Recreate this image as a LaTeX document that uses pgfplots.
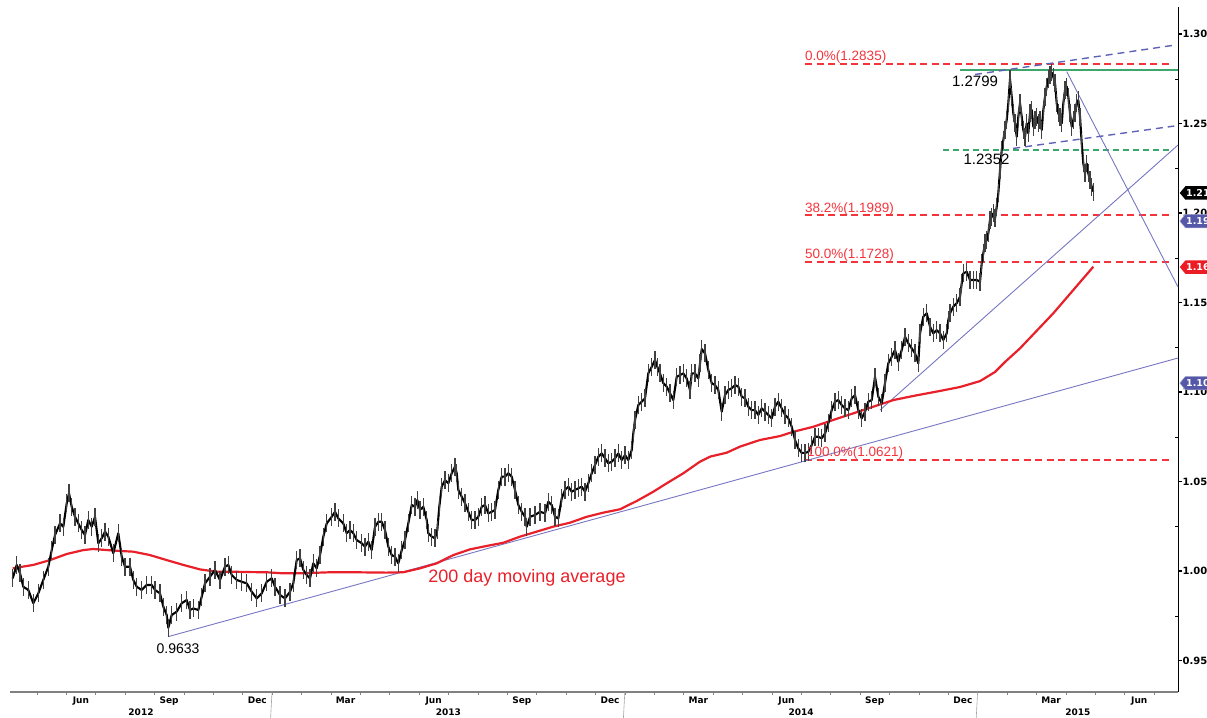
\documentclass[border=0pt]{standalone}
\usepackage{pgfplots}
\pgfplotsset{compat=1.18}
\usepackage{fontspec}
\setmainfont{Liberation Sans}
\newfontfamily\dejavu{DejaVu Sans}
\usetikzlibrary{shapes.symbols}
\definecolor{trend}{HTML}{7676C2}
\definecolor{dblue}{HTML}{5F62B5}
\definecolor{fibline}{rgb}{0.96,0.2,0.23}
\definecolor{mared}{HTML}{E8202A}
\definecolor{grn}{HTML}{3DA66C}
\definecolor{tagblue}{HTML}{5558A8}
\definecolor{tagred}{HTML}{EC1C24}

\pgfplotstableread{
m v
3.180 0.9959
3.316 1.0034
3.429 0.9987
3.541 0.9912
3.711 0.9894
3.881 0.9820
4.051 0.9875
4.221 0.9950
4.391 1.0024
4.507 1.0117
4.619 1.0201
4.789 1.0266
4.901 1.0247
5.017 1.0378
5.095 1.0434
5.187 1.0359
5.299 1.0303
5.412 1.0266
5.527 1.0229
5.639 1.0201
5.752 1.0285
5.867 1.0247
5.980 1.0303
6.092 1.0155
6.207 1.0183
6.320 1.0220
6.432 1.0192
6.602 1.0099
6.772 1.0211
6.888 1.0080
7.000 1.0024
7.170 1.0024
7.282 0.9950
7.398 0.9912
7.568 0.9894
7.738 0.9922
7.908 0.9922
8.020 0.9894
8.190 0.9875
8.303 0.9801
8.418 0.9754
8.473 0.9683
8.588 0.9754
8.759 0.9773
8.929 0.9820
9.099 0.9838
9.211 0.9782
9.323 0.9791
9.493 0.9782
9.609 0.9857
9.721 0.9931
9.891 0.9968
10.061 1.0006
10.231 0.9950
10.401 1.0024
10.514 1.0034
10.629 0.9978
10.799 0.9950
10.969 0.9940
11.139 0.9931
11.310 0.9884
11.480 0.9847
11.650 0.9875
11.820 0.9940
11.990 0.9959
12.102 0.9912
12.272 0.9866
12.442 0.9847
12.612 0.9884
12.724 0.9931
12.840 1.0061
12.952 1.0071
13.065 1.0006
13.180 0.9978
13.293 0.9959
13.405 1.0043
13.520 1.0015
13.633 1.0089
13.745 1.0192
13.861 1.0266
14.031 1.0303
14.143 1.0331
14.255 1.0294
14.425 1.0266
14.541 1.0211
14.653 1.0229
14.765 1.0211
14.881 1.0173
15.051 1.0155
15.163 1.0136
15.276 1.0164
15.391 1.0117
15.503 1.0247
15.616 1.0275
15.731 1.0275
15.844 1.0229
15.956 1.0136
16.071 1.0089
16.184 1.0080
16.296 1.0043
16.412 1.0117
16.524 1.0173
16.636 1.0266
16.752 1.0369
16.864 1.0359
16.942 1.0397
17.034 1.0341
17.146 1.0359
17.262 1.0285
17.316 1.0211
17.432 1.0192
17.544 1.0183
17.622 1.0229
17.690 1.0359
17.772 1.0471
17.884 1.0508
17.997 1.0490
18.112 1.0546
18.224 1.0583
18.282 1.0546
18.337 1.0453
18.452 1.0415
18.565 1.0378
18.677 1.0331
18.793 1.0285
18.905 1.0285
19.017 1.0303
19.133 1.0359
19.245 1.0369
19.357 1.0322
19.473 1.0331
19.585 1.0341
19.697 1.0453
19.813 1.0527
19.925 1.0527
20.037 1.0546
20.153 1.0527
20.265 1.0453
20.378 1.0369
20.493 1.0331
20.605 1.0303
20.663 1.0247
20.776 1.0303
20.946 1.0313
21.116 1.0331
21.286 1.0322
21.398 1.0387
21.514 1.0369
21.626 1.0303
21.738 1.0294
21.854 1.0406
21.966 1.0453
22.078 1.0471
22.194 1.0443
22.306 1.0453
22.418 1.0462
22.534 1.0471
22.646 1.0443
22.759 1.0490
22.874 1.0546
22.986 1.0592
23.099 1.0638
23.214 1.0657
23.327 1.0630
23.439 1.0602
23.554 1.0611
23.667 1.0630
23.779 1.0657
23.895 1.0620
24.007 1.0648
24.119 1.0620
24.235 1.0676
24.289 1.0769
24.347 1.0844
24.459 1.0927
24.575 1.0946
24.687 1.0965
24.799 1.1104
24.915 1.1141
25.027 1.1179
25.105 1.1141
25.197 1.1104
25.310 1.1049
25.425 1.1030
25.537 1.0993
25.650 1.0955
25.765 1.1085
25.878 1.1095
25.990 1.1104
26.105 1.1076
26.218 1.1011
26.276 1.1104
26.388 1.1104
26.500 1.1076
26.558 1.1160
26.616 1.1240
26.728 1.1216
26.840 1.1123
26.956 1.1049
27.068 1.1039
27.180 1.1011
27.296 1.0890
27.408 1.0983
27.520 1.1011
27.636 1.1021
27.748 1.1039
27.861 1.1030
27.976 1.0974
28.088 1.0965
28.201 1.0918
28.316 1.0899
28.429 1.0899
28.541 1.0872
28.656 1.0909
28.769 1.0890
28.881 1.0872
28.997 1.0853
29.109 1.0918
29.221 1.0946
29.337 1.0909
29.449 1.0872
29.561 1.0853
29.677 1.0806
29.789 1.0732
29.901 1.0685
30.017 1.0660
30.129 1.0660
30.241 1.0665
30.357 1.0704
30.469 1.0750
30.582 1.0750
30.697 1.0741
30.810 1.0769
30.922 1.0825
31.037 1.0899
31.150 1.0946
31.262 1.0955
31.378 1.0927
31.490 1.0909
31.602 1.0899
31.718 1.0965
31.830 1.0983
31.942 1.0899
32.058 1.0853
32.170 1.0890
32.282 1.0946
32.398 1.0955
32.510 1.1085
32.622 1.0974
32.738 1.0937
32.850 1.1049
32.963 1.1160
33.078 1.1197
33.190 1.1235
33.303 1.1169
33.418 1.1235
33.531 1.1309
33.643 1.1272
33.759 1.1244
33.871 1.1216
33.983 1.1160
34.041 1.1328
34.153 1.1421
34.269 1.1440
34.381 1.1365
34.493 1.1328
34.609 1.1346
34.721 1.1328
34.833 1.1291
34.949 1.1328
35.003 1.1402
35.061 1.1440
35.173 1.1477
35.289 1.1496
35.401 1.1532
35.459 1.1607
35.514 1.1663
35.629 1.1672
35.741 1.1626
35.854 1.1626
35.969 1.1626
36.082 1.1616
36.139 1.1719
36.194 1.1775
36.252 1.1831
36.310 1.1849
36.364 1.1887
36.422 1.1961
36.480 1.1979
36.534 1.1998
36.592 1.1970
36.650 1.2035
36.704 1.2110
36.762 1.2240
36.820 1.2352
36.874 1.2408
36.932 1.2464
36.990 1.2520
37.044 1.2613
37.102 1.2749
37.160 1.2650
37.214 1.2557
37.272 1.2501
37.330 1.2426
37.384 1.2538
37.442 1.2613
37.500 1.2538
37.554 1.2464
37.612 1.2426
37.670 1.2501
37.724 1.2445
37.782 1.2557
37.840 1.2575
37.895 1.2482
37.952 1.2520
38.010 1.2538
38.065 1.2501
38.122 1.2520
38.180 1.2464
38.235 1.2575
38.293 1.2650
38.350 1.2706
38.405 1.2750
38.463 1.2770
38.520 1.2785
38.575 1.2760
38.633 1.2725
38.690 1.2613
38.745 1.2557
38.803 1.2538
38.861 1.2501
38.915 1.2613
38.973 1.2687
39.031 1.2706
39.085 1.2650
39.143 1.2557
39.201 1.2482
39.255 1.2520
39.313 1.2557
39.371 1.2613
39.425 1.2631
39.483 1.2538
39.541 1.2389
39.595 1.2277
39.653 1.2222
39.711 1.2277
39.765 1.2222
39.823 1.2184
39.881 1.2147
39.935 1.2120
}\price

\pgfplotstableread{
m v
3.180 1.0015
3.881 1.0034
4.449 1.0061
5.017 1.0095
5.582 1.0117
5.922 1.0123
6.378 1.0117
6.830 1.0112
7.282 1.0108
7.850 1.0089
8.418 1.0061
8.983 1.0034
9.551 1.0009
10.119 0.9996
10.684 0.9996
11.252 0.9994
11.820 0.9993
12.384 0.9987
12.952 0.9987
13.973 0.9993
14.765 0.9993
15.901 0.9991
16.466 0.9993
17.034 1.0015
17.602 1.0043
18.167 1.0089
18.735 1.0121
19.303 1.0140
19.871 1.0158
20.435 1.0192
21.003 1.0220
21.568 1.0248
22.136 1.0270
22.704 1.0303
23.269 1.0326
23.837 1.0345
24.405 1.0391
24.969 1.0443
25.425 1.0490
25.990 1.0546
26.558 1.0611
26.898 1.0639
27.466 1.0661
27.918 1.0695
28.599 1.0732
29.279 1.0754
29.731 1.0778
30.412 1.0806
31.092 1.0844
31.772 1.0881
32.452 1.0918
33.133 1.0955
33.813 1.0978
34.721 1.1006
35.401 1.1028
36.082 1.1061
36.592 1.1112
36.932 1.1168
37.442 1.1244
38.575 1.1440
39.255 1.1570
39.935 1.1700
}\ma

\begin{document}
\begin{tikzpicture}
\begin{axis}[
  scale only axis, width=1168pt, height=685pt,
  xmin=3.088, xmax=42.816, ymin=0.9324, ymax=1.3151,
  axis x line*=bottom, axis y line*=right,
  x axis line style={gray, line width=1.2pt},
  y axis line style={black, line width=0.8pt},
  clip=false,
  xtick={5.5,8.5,11.5,14.5,17.5,20.5,23.5,26.5,29.5,32.5,35.5,38.5,41.5},
  xticklabels={Jun,Sep,Dec,Mar,Jun,Sep,Dec,Mar,Jun,Sep,Dec,Mar,Jun},
  minor xtick={4,5,...,42},
  major x tick style={draw=none},
  minor x tick style={gray, line width=0.6pt},
  tick align=outside,
  minor tick length=3pt,
  xticklabel style={font=\dejavu\bfseries\fontsize{9}{10}\selectfont, yshift=3pt},
  ytick={0.95,1.00,1.05,1.10,1.15,1.20,1.25,1.30},
  minor ytick={0.975,1.025,1.075,1.125,1.175,1.225,1.275},
  minor y tick style={xshift=-3pt, black},
  major y tick style={black, line width=1.8pt},
  major tick length=4pt,
  /pgf/number format/assume math mode=true,
  yticklabel style={font=\dejavu\bfseries\fontsize{10}{11}\selectfont,
    /pgf/number format/fixed, /pgf/number format/fixed zerofill,
    /pgf/number format/precision=3, xshift=-3pt},
]
% fib lines
\addplot[color=fibline, line width=1.9pt, dash pattern=on 7pt off 4.5pt] coordinates {(30.129,1.2835) (42.633,1.2835)};
\addplot[color=fibline, line width=1.6pt, dash pattern=on 7pt off 4.5pt] coordinates {(30.129,1.1989) (42.633,1.1989)};
\addplot[color=fibline, line width=1.6pt, dash pattern=on 7pt off 4.5pt] coordinates {(30.129,1.1728) (42.633,1.1728)};
\addplot[color=fibline, line width=1.6pt, dash pattern=on 7pt off 4.5pt] coordinates {(30.129,1.0621) (42.633,1.0621)};
% green lines
\addplot[color=grn, line width=1.6pt] coordinates {(35.384,1.2799) (42.816,1.2799)};
\addplot[color=grn, line width=1.2pt, dash pattern=on 6pt off 4pt] coordinates {(34.813,1.2352) (42.61,1.2352)};
% trend lines
\addplot[color=trend, line width=0.9pt] coordinates {(8.463,0.9633) (42.816,1.1190)};
\addplot[color=trend, line width=0.9pt] coordinates {(32.680,1.0899) (42.816,1.2380)};
\addplot[color=trend, line width=0.9pt] coordinates {(39.031,1.2790) (42.816,1.1587)};
\addplot[color=dblue, line width=1.4pt, dash pattern=on 7pt off 5pt] coordinates {(35.912,1.2774) (42.612,1.2936)};
\addplot[color=dblue, line width=1.4pt, dash pattern=on 7pt off 5pt] coordinates {(37.211,1.2361) (42.687,1.2486)};
% moving average
\addplot[color=mared, line width=2.2pt] table[x=m, y=v] {\ma};
% price
\addplot[black, line width=2.1pt, line join=round,
  error bars/.cd, y dir=both, y fixed=0.005, error mark=none,
  error bar style={black!75, line width=1.3pt}] table[x=m, y=v] {\price};
% labels
\node[text=fibline, anchor=south west, inner sep=0pt, font=\fontsize{13.5}{14}\selectfont] at (axis cs:30.129,1.2835) {0.0\%(1.2835)};
\node[text=fibline, anchor=south west, inner sep=0pt, font=\fontsize{13.5}{14}\selectfont] at (axis cs:30.129,1.1989) {38.2\%(1.1989)};
\node[text=fibline, anchor=south west, inner sep=0pt, font=\fontsize{13.5}{14}\selectfont] at (axis cs:30.129,1.1728) {50.0\%(1.1728)};
\node[text=fibline, anchor=south west, inner sep=0pt, font=\fontsize{13.5}{14}\selectfont] at (axis cs:30.193,1.0621) {100.0\%(1.0621)};
\node[font=\fontsize{15}{16}\selectfont] at (axis cs:35.912,1.2737) {1.2799};
\node[font=\fontsize{15}{16}\selectfont] at (axis cs:36.303,1.2302) {1.2352};
\node[font=\fontsize{14}{15}\selectfont] at (axis cs:8.803,0.9564) {0.9633};
\node[text=mared, font=\fontsize{18}{19}\selectfont] at (axis cs:20.673,0.9961) {200 day moving average};
% year separators and labels
\draw[gray!70, line width=0.6pt] (axis cs:12,0.9324) -- ++(0,-26pt);
\draw[gray!70, line width=0.6pt] (axis cs:24,0.9324) -- ++(0,-26pt);
\draw[gray!70, line width=0.6pt] (axis cs:36,0.9324) -- ++(0,-26pt);
\node[font=\dejavu\bfseries\fontsize{9}{10}\selectfont, yshift=-20pt] at (axis cs:7.544,0.9324) {2012};
\node[font=\dejavu\bfseries\fontsize{9}{10}\selectfont, yshift=-20pt] at (axis cs:18,0.9324) {2013};
\node[font=\dejavu\bfseries\fontsize{9}{10}\selectfont, yshift=-20pt] at (axis cs:30,0.9324) {2014};
\node[font=\dejavu\bfseries\fontsize{9}{10}\selectfont, yshift=-20pt] at (axis cs:39.41,0.9324) {2015};
% value tags
\node[signal, signal to=west, signal pointer angle=100, fill=black, text=white, inner sep=0.8pt, minimum height=13.5pt, anchor=west, font=\dejavu\bfseries\fontsize{9.5}{10}\selectfont, xshift=1.5pt] at (axis cs:42.816,1.2112) {1.211};
\node[signal, signal to=west, signal pointer angle=100, fill=tagblue, draw=tagblue!50, text=white, inner sep=0.8pt, minimum height=13.5pt, anchor=west, font=\dejavu\bfseries\fontsize{9.5}{10}\selectfont, xshift=1.5pt] at (axis cs:42.816,1.1955) {1.195};
\node[signal, signal to=west, signal pointer angle=100, fill=tagred, text=white, inner sep=0.8pt, minimum height=13.5pt, anchor=west, font=\dejavu\bfseries\fontsize{9.5}{10}\selectfont, xshift=1.5pt] at (axis cs:42.816,1.1698) {1.169};
\node[signal, signal to=west, signal pointer angle=100, fill=tagblue, draw=tagblue!50, text=white, inner sep=0.8pt, minimum height=13.5pt, anchor=west, font=\dejavu\bfseries\fontsize{9.5}{10}\selectfont, xshift=1.5pt] at (axis cs:42.816,1.1050) {1.105};
\coordinate (SW) at (rel axis cs:0,0);
\coordinate (NE) at (rel axis cs:1,1);
\end{axis}
\pgfresetboundingbox
\path ([shift={(-10pt,-26pt)}]SW) rectangle ([shift={(29pt,7pt)}]NE);
\end{tikzpicture}
\end{document}
